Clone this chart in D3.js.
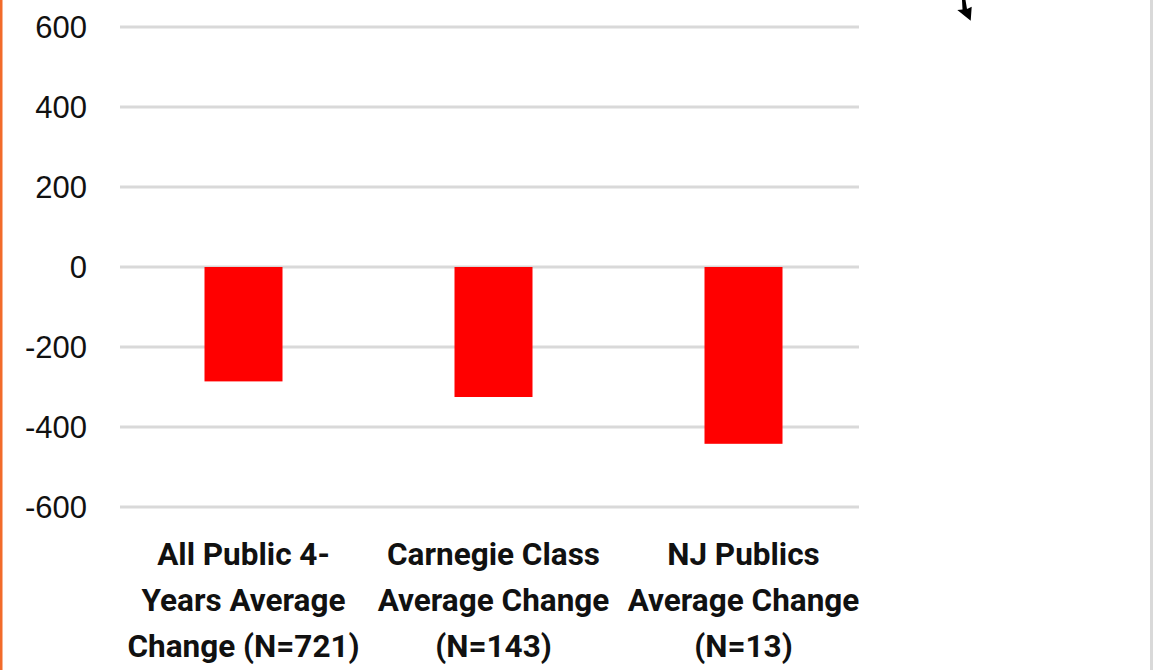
<!DOCTYPE html>
<html>
<head>
<meta charset="utf-8">
<script src="https://cdn.jsdelivr.net/npm/d3@7/dist/d3.min.js"></script>
<style>
  html, body { margin: 0; padding: 0; background: #fff; }
  svg { display: block; }
</style>
</head>
<body>
<div id="chart"></div>
<script>
// Chart size
var w = 1153;
var h = 670;

// Data
var categories = [
    ["All Public 4-", "Years Average", "Change (N=721)"],
    ["Carnegie Class", "Average Change", "(N=143)"],
    ["NJ Publics", "Average Change", "(N=13)"]
];
var values = [-286, -325, -442];
var yTicks = [-600, -400, -200, 0, 200, 400, 600];

// Plot area (Excel style)
var plotLeft = 120, plotRight = 859;

var svg = d3.select("#chart")
            .append("svg")
            .attr("width", w)
            .attr("height", h);

// Scales
var xScale = d3.scaleBand()
               .domain(d3.range(categories.length))
               .range([118.5, 868.5])
               .paddingInner(0.688)
               .paddingOuter(0.344);

var yScale = d3.scaleLinear()
               .domain([-600, 600])
               .range([507, 27]);

// Gridlines
svg.append("g")
   .selectAll("line")
   .data(yTicks)
   .join("line")
   .attr("x1", plotLeft)
   .attr("x2", plotRight)
   .attr("y1", d => yScale(d))
   .attr("y2", d => yScale(d))
   .attr("stroke", "#d9d9d9")
   .attr("stroke-width", 3);

// Y axis labels
var yAxis = d3.axisLeft(yScale)
              .tickValues(yTicks)
              .tickSize(0)
              .tickPadding(0)
              .tickFormat(d3.format("d"));

var gy = svg.append("g")
            .attr("transform", "translate(87,0)")
            .call(yAxis);
gy.select(".domain").remove();
gy.selectAll("text")
  .attr("font-family", "'Liberation Sans', Arial, sans-serif")
  .attr("font-size", 31)
  .attr("fill", "#111")
  .attr("dy", "0.35em")
  .text(d => d < 0 ? "-" + Math.abs(d) : d);

// Bars
svg.append("g")
   .selectAll("rect")
   .data(values)
   .join("rect")
   .attr("x", (d, i) => xScale(i))
   .attr("width", xScale.bandwidth())
   .attr("y", d => yScale(Math.max(0, d)))
   .attr("height", d => Math.abs(yScale(d) - yScale(0)))
   .attr("fill", "#ff0000");

// Category labels
var labels = svg.append("g")
   .selectAll("text")
   .data(categories)
   .join("text")
   .attr("x", (d, i) => xScale(i) + xScale.bandwidth() / 2)
   .attr("y", 565)
   .attr("text-anchor", "middle")
   .attr("font-family", "Roboto, 'Open Sans', sans-serif")
   .attr("font-weight", "bold")
   .attr("font-size", 31.5)
   .attr("fill", "#111");

labels.selectAll("tspan")
   .data(d => d)
   .join("tspan")
   .attr("x", function() { return d3.select(this.parentNode).attr("x"); })
   .attr("dy", (d, i) => i === 0 ? 0 : 46)
   .text(d => d);

// Arrow tip coming in from above
svg.append("path")
   .attr("d", "M962,0 L965.5,0 L967,9 L971.7,6.7 L970.7,20.7 L957.3,10 L962.5,9.5 Z")
   .attr("fill", "#000");

// Frame borders
svg.append("rect")
   .attr("x", 0).attr("y", 0)
   .attr("width", 2.5).attr("height", h)
   .attr("fill", "#f26b2a");

svg.append("rect")
   .attr("x", 1150).attr("y", 0)
   .attr("width", 3).attr("height", h)
   .attr("fill", "#d9d9d9");
</script>
</body>
</html>
